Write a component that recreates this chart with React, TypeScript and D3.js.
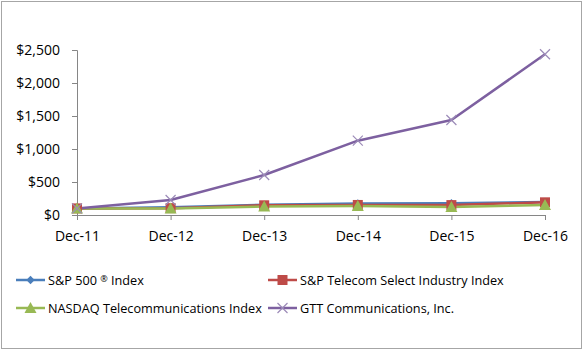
import React, { useEffect, useRef } from 'react';
import * as d3 from 'd3';

const periods = ['Dec-11', 'Dec-12', 'Dec-13', 'Dec-14', 'Dec-15', 'Dec-16'];
const sp500 = [100, 116, 154, 175, 177, 198];
const spTelecom = [100, 104, 147, 152, 150, 192];
const nasdaqTelecom = [100, 100, 128, 135, 122, 150];
const gtt = [100, 227, 606, 1126, 1439, 2435];
const yTicks = [0, 500, 1000, 1500, 2000, 2500];

const series = [
  { name: 'S&P 500 ', sup: '\u00ae', tail: ' Index', values: sp500, color: '#4A7EBB', marker: 'diamond' },
  { name: 'S&P Telecom Select Industry Index', values: spTelecom, color: '#BE4B48', marker: 'square' },
  { name: 'NASDAQ Telecommunications Index', values: nasdaqTelecom, color: '#98B954', marker: 'triangle' },
  { name: 'GTT Communications, Inc.', values: gtt, color: '#7D60A0', marker: 'x' },
];

const W = 584, H = 351;
const font = '"Open Sans", sans-serif';

function drawMarker(g: any, type: string, x: number, y: number, color: string) {
  if (type === 'diamond') {
    g.append('path').attr('d', d3.symbol(d3.symbolDiamond2, 45)()).attr('transform', `translate(${x},${y})`).attr('fill', color);
  } else if (type === 'square') {
    g.append('rect').attr('x', x - 5).attr('y', y - 5).attr('width', 10).attr('height', 10).attr('fill', color);
  } else if (type === 'triangle') {
    g.append('path').attr('d', `M${x},${y - 6}L${x + 6},${y + 5}L${x - 6},${y + 5}Z`).attr('fill', color);
  } else {
    g.append('path').attr('d', `M${x - 5},${y - 5}L${x + 5},${y + 5}M${x - 5},${y + 5}L${x + 5},${y - 5}`)
      .attr('stroke', '#9C8BB8').attr('stroke-width', 1.2).attr('fill', 'none');
  }
}

export default function App() {
  const ref = useRef<SVGSVGElement>(null);
  useEffect(() => {
    const svg = d3.select(ref.current);
    svg.selectAll('*').remove();
    svg.append('rect').attr('x', 1.5).attr('y', 1.5).attr('width', 580).attr('height', 347)
      .attr('fill', '#fff').attr('stroke', '#A6A6A6').attr('stroke-width', 1);

    const x = d3.scalePoint().domain(periods).range([77, 545]);
    const y = d3.scaleLinear().domain([0, 2500]).range([215, 50]);

    const axisColor = '#868686';
    // y axis
    const ya = svg.append('g').attr('transform', 'translate(77,0)')
      .call(d3.axisLeft(y).tickValues(yTicks).tickSize(5).tickPadding(12).tickFormat((d: any) => '$' + d3.format(',')(d)));
    ya.select('.domain').attr('stroke', axisColor);
    ya.selectAll('line').attr('stroke', axisColor);
    ya.selectAll('text').attr('font-family', font).attr('font-size', 14).attr('fill', '#000');

    const xa = svg.append('g').attr('transform', 'translate(0,215)')
      .call(d3.axisBottom(x).tickSize(5).tickSizeOuter(0).tickPadding(11));
    xa.select('.domain').attr('stroke', axisColor);
    xa.selectAll('line').attr('stroke', axisColor);
    xa.selectAll('text').attr('font-family', font).attr('font-size', 14).attr('fill', '#000');

    const line = d3.line<number>().x((_, i) => x(periods[i])!).y(d => y(d));
    series.forEach(s => {
      svg.append('path').datum(s.values).attr('d', line).attr('fill', 'none')
        .attr('stroke', s.color).attr('stroke-width', 2.5).attr('stroke-linejoin', 'round');
    });
    series.forEach(s => {
      const g = svg.append('g');
      s.values.forEach((v, i) => drawMarker(g, s.marker, x(periods[i])!, y(v), s.color));
    });

    // legend
    const legendPos = [[16, 280], [268, 280], [16, 308], [268, 308]];
    series.forEach((s, i) => {
      const [lx, ly] = legendPos[i];
      const g = svg.append('g');
      g.append('line').attr('x1', lx).attr('x2', lx + 29).attr('y1', ly).attr('y2', ly)
        .attr('stroke', s.color).attr('stroke-width', 2.5);
      drawMarker(g, s.marker, lx + 14.5, ly, s.color);
      const t = g.append('text').attr('x', lx + 32).attr('y', ly + 5).attr('font-family', font)
        .attr('font-size', 12.7).attr('fill', '#000');
      t.append('tspan').text(s.name);
      if (s.sup) {
        t.append('tspan').attr('font-size', 9).attr('dy', -3).text(s.sup);
        t.append('tspan').attr('dy', 3).text(s.tail!);
      }
    });
  }, []);
  return <svg ref={ref} width={W} height={H} style={{ position: 'absolute', left: 0, top: 0 }} />;
}
